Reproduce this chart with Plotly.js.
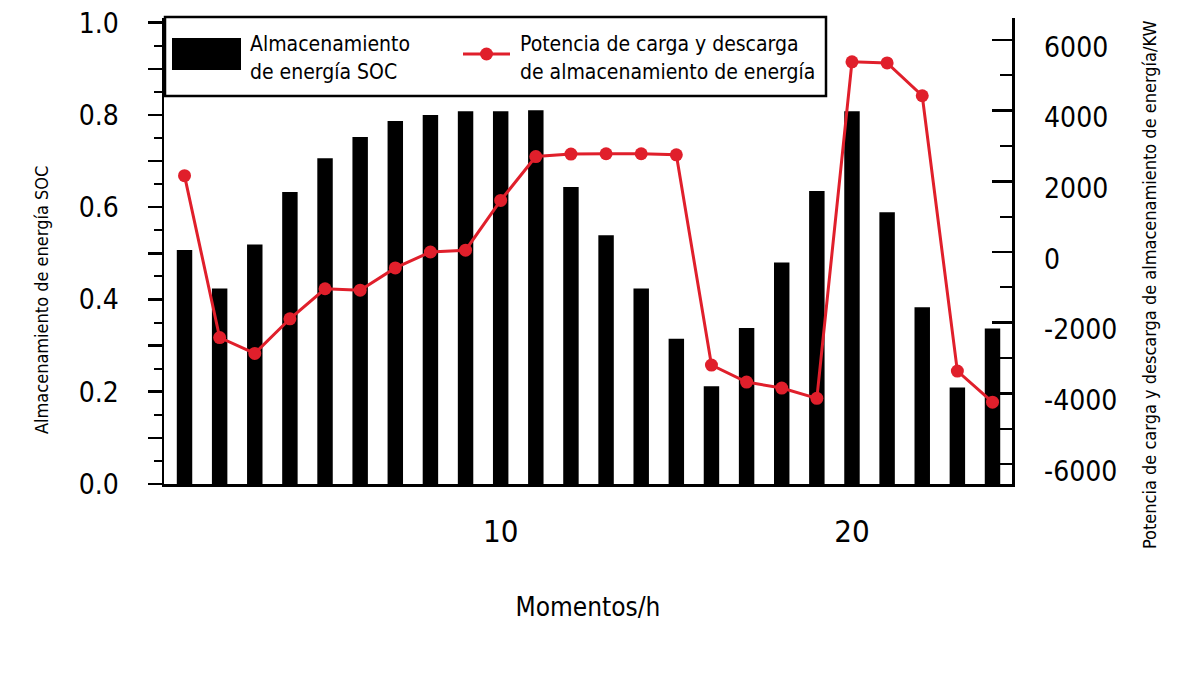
<!DOCTYPE html>
<html>
<head>
<meta charset="utf-8">
<script src="https://cdn.plot.ly/plotly-3.0.1.min.js"></script>
<style>
  html, body { margin: 0; padding: 0; background: #fff; }
  #chart { width: 1200px; height: 675px; }
</style>
</head>
<body>
<div id="chart"></div>
<script>
// hours of the day
const hours = [1, 2, 3, 4, 5, 6, 7, 8, 9, 10, 11, 12, 13, 14, 15, 16, 17, 18, 19, 20, 21, 22, 23, 24];

// state of charge (left axis)
const soc = [0.507, 0.424, 0.519, 0.633, 0.706, 0.752, 0.787, 0.800, 0.808, 0.808, 0.810, 0.644,
             0.539, 0.424, 0.315, 0.212, 0.338, 0.480, 0.635, 0.808, 0.589, 0.383, 0.209, 0.337];

// charge / discharge power in kW (right axis)
const power = [2160, -2420, -2870, -1890, -1040, -1080, -450, 0, 50, 1460, 2700, 2770,
               2780, 2780, 2750, -3200, -3680, -3850, -4140, 5380, 5350, 4420, -3370, -4250];

// tick labels
const xTickVals = [10, 20];
const socTickVals = [0, 0.1, 0.2, 0.3, 0.4, 0.5, 0.6, 0.7, 0.8, 0.9, 1.0];
const socTickText = ['0.0', '', '0.2', '', '0.4', '', '0.6', '', '0.8', '', '1.0'];
const powerTickVals = [-6000, -4000, -2000, 0, 2000, 4000, 6000];
const powerTickText = ['-6000', '-4000', '-2000', '0', '2000', '4000', '6000'];

const socName = 'Almacenamiento de energía SOC';
const powerName = 'Potencia de carga y descarga de almacenamiento de energía';

const FONT = '"DejaVu Sans Condensed", "DejaVu Sans", sans-serif';
const RED = '#e01f2b';

// plot box in pixels, used to place the hand drawn legend and the y titles
const L = 164, R = 1012, T = 18, B = 484;
function px(x) { return (x - L) / (R - L); }
function py(y) { return (B - y) / (B - T); }

const data = [
  {
    type: 'bar',
    x: hours,
    y: soc,
    name: socName,
    width: 0.44,
    marker: { color: '#000', line: { width: 0 } },
    yaxis: 'y'
  },
  {
    type: 'scatter',
    mode: 'lines+markers',
    x: hours,
    y: power,
    name: powerName,
    line: { color: RED, width: 3 },
    marker: { color: RED, size: 13 },
    yaxis: 'y2'
  }
];

const legendText = { family: FONT, size: 21, color: '#000' };
const yTitleFont = { family: FONT, size: 18, color: '#000' };

const layout = {
  width: 1200,
  height: 675,
  margin: { l: L, r: 1200 - R, t: T, b: 675 - B, pad: 0 },
  paper_bgcolor: '#fff',
  plot_bgcolor: '#fff',
  showlegend: false,
  font: { family: FONT, color: '#000' },
  xaxis: {
    range: [0.416, 24.555],
    tickvals: xTickVals,
    ticks: '',
    showline: true,
    linecolor: '#000',
    linewidth: 2.5,
    showgrid: false,
    zeroline: false,
    tickfont: { family: FONT, size: 31, color: '#000' },
    ticklabelstandoff: 18,
    title: { text: 'Momentos/h', font: { family: FONT, size: 26, color: '#000' }, standoff: 50 }
  },
  yaxis: {
    range: [0, 1.0102],
    tickvals: socTickVals,
    ticktext: socTickText,
    ticks: 'outside',
    ticklen: 14,
    tickwidth: 2.5,
    tickcolor: '#000',
    minor: { dtick: 0.05, ticks: 'outside', ticklen: 8, tickwidth: 2, tickcolor: '#000' },
    showline: true,
    linecolor: '#000',
    linewidth: 2.5,
    showgrid: false,
    zeroline: false,
    tickfont: { family: FONT, size: 28, color: '#000' },
    ticklabelstandoff: 23
  },
  yaxis2: {
    overlaying: 'y',
    side: 'right',
    range: [-6564, 6620],
    tickvals: powerTickVals,
    ticktext: powerTickText,
    ticks: 'inside',
    ticklen: 20,
    tickwidth: 2.5,
    tickcolor: '#000',
    minor: { dtick: 1000, ticks: 'inside', ticklen: 12, tickwidth: 2, tickcolor: '#000' },
    showline: true,
    linecolor: '#000',
    linewidth: 2.5,
    showgrid: false,
    zeroline: false,
    tickfont: { family: FONT, size: 28, color: '#000' },
    ticklabelstandoff: 24,
    ticklabelshift: 7
  },
  // legend drawn by hand so the swatches keep their size
  shapes: [
    { type: 'rect', xref: 'paper', yref: 'paper', x0: px(165), x1: px(826), y0: py(96), y1: py(17),
      line: { color: '#000', width: 2.5 }, fillcolor: '#fff', layer: 'above' },
    { type: 'rect', xref: 'paper', yref: 'paper', x0: px(172), x1: px(241), y0: py(70), y1: py(38),
      line: { width: 0 }, fillcolor: '#000', layer: 'above' },
    { type: 'line', xref: 'paper', yref: 'paper', x0: px(463), x1: px(510), y0: py(54), y1: py(54),
      line: { color: RED, width: 3 }, layer: 'above' },
    { type: 'circle', xref: 'paper', yref: 'paper', x0: px(480), x1: px(493), y0: py(60.5), y1: py(47.5),
      line: { width: 0 }, fillcolor: RED, layer: 'above' }
  ],
  annotations: [
    { xref: 'paper', yref: 'paper', x: px(248), y: py(44), text: 'Almacenamiento',
      showarrow: false, xanchor: 'left', yanchor: 'middle', font: legendText },
    { xref: 'paper', yref: 'paper', x: px(248), y: py(72), text: 'de energía SOC',
      showarrow: false, xanchor: 'left', yanchor: 'middle', font: legendText },
    { xref: 'paper', yref: 'paper', x: px(518), y: py(44), text: 'Potencia de carga y descarga',
      showarrow: false, xanchor: 'left', yanchor: 'middle', font: legendText },
    { xref: 'paper', yref: 'paper', x: px(518), y: py(72), text: 'de almacenamiento de energía',
      showarrow: false, xanchor: 'left', yanchor: 'middle', font: legendText },
    // y axis titles, placed where the reference has them
    { xref: 'paper', yref: 'paper', x: px(41), y: py(300), text: socName, textangle: -90,
      showarrow: false, xanchor: 'center', yanchor: 'middle', font: yTitleFont },
    { xref: 'paper', yref: 'paper', x: px(1150), y: py(285), text: powerName + '/KW', textangle: -90,
      showarrow: false, xanchor: 'center', yanchor: 'middle', font: yTitleFont }
  ]
};

Plotly.newPlot('chart', data, layout, { staticPlot: true, displayModeBar: false });
</script>
</body>
</html>
